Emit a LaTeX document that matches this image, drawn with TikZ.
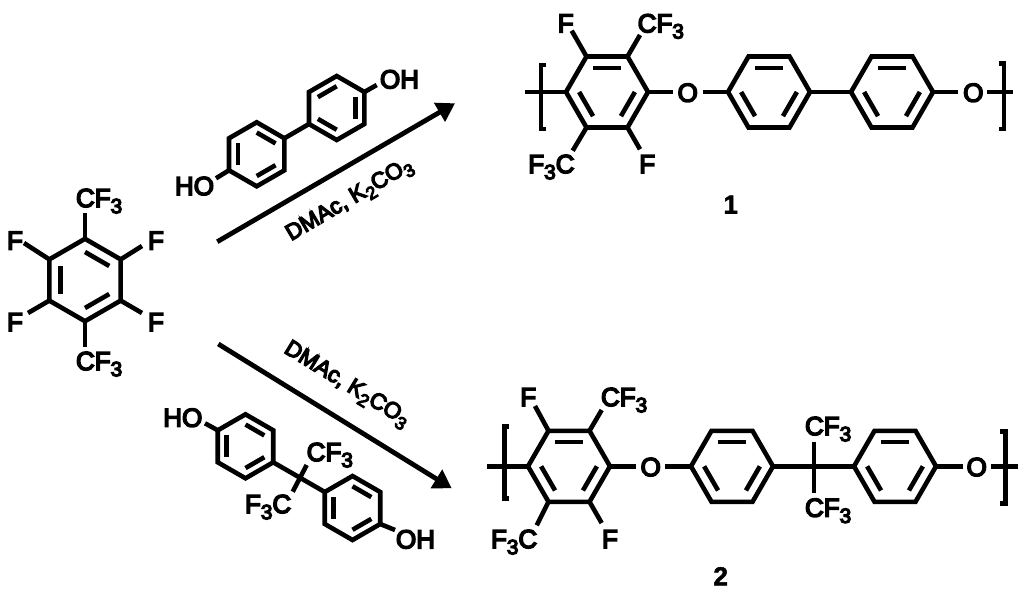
\documentclass[tikz,border=0pt]{standalone}
\usepackage{fontspec}
\usepackage{graphicx}
\usetikzlibrary{arrows.meta}
\newfontfamily\chemfont[FakeBold=6]{Liberation Sans}
\newfontfamily\chemboldfont[FakeBold=2]{Liberation Sans Bold}
\newcommand\subt[1]{\raisebox{-.24em}{\scalebox{.8}{#1}}}
\tikzset{
  bond/.style={line width=4.6pt,line join=miter,line cap=butt,draw=black},
  atom/.style={inner sep=0pt,outer sep=0pt,font=\chemfont\fontsize{26}{26}\selectfont},
  cond/.style={inner sep=0pt,outer sep=0pt,font=\chemfont\fontsize{22.5}{22.5}\selectfont},
  cmpd/.style={inner sep=0pt,outer sep=0pt,font=\chemboldfont\fontsize{26}{26}\selectfont},
  rxn/.style={line width=4.8pt,draw=black,-{Triangle[length=18pt,width=21pt]}},
}
\newcommand\benzene[6]{%
  \foreach \k in {0,...,5}{%
    \coordinate (#1v\k) at ({#2+#4*cos(#5+60*\k)},{#3+#4*sin(#5+60*\k)});
    \coordinate (#1i\k) at ({#2+.68*#4*cos(#5+60*\k)},{#3+.68*#4*sin(#5+60*\k)});
  }
  \draw[bond] (#1v0)--(#1v1)--(#1v2)--(#1v3)--(#1v4)--(#1v5)--cycle;
  \foreach \k in {#6}{%
    \pgfmathtruncatemacro\kk{mod(\k+1,6)}
    \draw[bond] (#1i\k)--(#1i\kk);
  }
}
% bracket: name, x of vertical, x of tick end, y top, y bottom
\newcommand\polybracket[5]{%
  \coordinate (#1a) at (#3,#4); \coordinate (#1b) at (#2,#4);
  \coordinate (#1c) at (#2,#5); \coordinate (#1d) at (#3,#5);
  \draw[line width=4.6pt,line join=miter] (#1a)--(#1b)--(#1c)--(#1d);
}
\begin{document}
\begin{tikzpicture}[x=1pt,y=-1pt]
\useasboundingbox (0,0) rectangle (1024,597);
% ---------- monomer
\benzene{A}{85}{280}{41.2}{30}{0,2,4}
\node[atom,anchor=base west] (Acf1) at (76,207) {CF\subt{3}};
\node[atom,anchor=base west] (Acf2) at (76,370) {CF\subt{3}};
\node[atom,anchor=base] (Af1) at (15,249.5) {F};
\node[atom,anchor=base] (Af2) at (156,249.5) {F};
\node[atom,anchor=base] (Af3) at (15,331) {F};
\node[atom,anchor=base] (Af4) at (156,331) {F};
\coordinate (Ae1) at (85,213); \coordinate (Ae2) at (85,347);
\coordinate (Ae3) at (24,243); \coordinate (Ae4) at (142,246);
\coordinate (Ae5) at (28,313); \coordinate (Ae6) at (142,313);
\draw[bond] (Av4)--(Ae1);
\draw[bond] (Av1)--(Ae2);
\draw[bond] (Av3)--(Ae3);
\draw[bond] (Av5)--(Ae4);
\draw[bond] (Av2)--(Ae5);
\draw[bond] (Av0)--(Ae6);
% ---------- biphenol
\benzene{H}{256.7}{154.3}{32}{30}{0,2,4}
\benzene{I}{336.7}{108}{32}{30}{1,3,5}
\draw[bond] (Hv5)--(Iv2);
\node[atom,anchor=base west] (Hho) at (175,195) {HO};
\node[atom,anchor=base west] (Ioh) at (380,88.3) {OH};
\coordinate (He) at (216,178.3); \coordinate (Ie) at (376.7,85);
\draw[bond] (Hv2)--(He);
\draw[bond] (Iv5)--(Ie);
% ---------- bisphenol AF
\benzene{J}{245.5}{446.3}{32}{30}{0,2,4}
\benzene{K}{352.5}{508}{32}{30}{0,2,4}
\draw[bond] (Jv0)--(Kv3);
\coordinate (Lx1) at (306.7,465); \coordinate (Lx2) at (292.7,491.7);
\draw[bond] (Lx1)--(Lx2);
\node[atom,anchor=base west] (Jho) at (163.3,426.7) {HO};
\node[atom,anchor=base west] (Koh) at (396,548.3) {OH};
\node[atom,anchor=base west] (Lcf) at (306.7,461) {CF\subt{3}};
\node[atom,anchor=base west] (Lfc) at (245,513) {F\subt{3}C};
\coordinate (Je) at (205,423.3); \coordinate (Ke) at (395,530);
\draw[bond] (Jv3)--(Je);
\draw[bond] (Kv0)--(Ke);
% ---------- arrows
\coordinate (R1s) at (217.3,241.7); \coordinate (R1e) at (455,103.3);
\coordinate (R2s) at (218.3,344); \coordinate (R2e) at (451.7,488.3);
\draw[rxn] (R1s)--(R1e);
\draw[rxn] (R2s)--(R2e);
\node[cond,rotate=30.5] (C1) at (350,200.5) {DMAc, K\subt{2}CO\subt{3}};
\node[cond,rotate=-31.5] (C2) at (346.5,385) {DMAc, K\subt{2}CO\subt{3}};
% ---------- polymer 1
\benzene{B}{607}{92}{41}{0}{0,2,4}
\benzene{C}{769}{92}{41}{0}{0,2,4}
\benzene{D}{892}{92}{41}{0}{0,2,4}
\node[atom,anchor=base] (BO) at (687.7,101.7) {O};
\node[atom,anchor=base] (DO) at (973.3,101.7) {O};
\node[atom,anchor=base] (Bf1) at (565.7,32.3) {F};
\node[atom,anchor=base west] (Bcf) at (637.7,32.3) {CF\subt{3}};
\node[atom,anchor=base west] (Bfc) at (528.3,173) {F\subt{3}C};
\node[atom,anchor=base] (Bf2) at (647.3,173) {F};
\node[cmpd,anchor=base] (N1) at (730.7,213.5) {1};
\coordinate (Bb1) at (673.3,92); \coordinate (Bb2) at (702.7,92);
\coordinate (Bb3) at (958,92); \coordinate (Bb4) at (987.3,92);
\coordinate (Bb5) at (1013.3,92); \coordinate (Bb6) at (525,92);
\coordinate (Bs1) at (571.7,30.7); \coordinate (Bs2) at (640,35);
\coordinate (Bs3) at (572.7,150.7); \coordinate (Bs4) at (640,149.3);
\draw[bond] (Bv0)--(Bb1);
\draw[bond] (Bb2)--(Cv3);
\draw[bond] (Cv0)--(Dv3);
\draw[bond] (Dv0)--(Bb3);
\draw[bond] (Bb4)--(Bb5);
\draw[bond] (Bb6)--(Bv3);
\draw[bond] (Bv4)--(Bs1);
\draw[bond] (Bv5)--(Bs2);
\draw[bond] (Bv2)--(Bs3);
\draw[bond] (Bv1)--(Bs4);
\polybracket{Bl}{541}{545.5}{65}{129}
\polybracket{Br}{1004}{999}{63.5}{129}
% ---------- polymer 2
\benzene{E}{569}{466.3}{41}{0}{0,2,4}
\benzene{F}{732}{466.3}{41}{0}{0,2,4}
\benzene{G}{895}{466.3}{41}{0}{0,2,4}
\node[atom,anchor=base] (EO) at (650.7,476) {O};
\node[atom,anchor=base] (GO) at (976.7,476) {O};
\node[atom,anchor=base] (Ef1) at (528.3,406) {F};
\node[atom,anchor=base west] (Ecf) at (601,406) {CF\subt{3}};
\node[atom,anchor=base west] (Efc) at (491,548) {F\subt{3}C};
\node[atom,anchor=base] (Ef2) at (610,548) {F};
\node[atom,anchor=base west] (Fcf1) at (805,435) {CF\subt{3}};
\node[atom,anchor=base west] (Fcf2) at (805,516.7) {CF\subt{3}};
\node[cmpd,anchor=base] (N2) at (720.7,585.3) {2};
\coordinate (Eb1) at (636.3,466.3); \coordinate (Eb2) at (665,466.3);
\coordinate (Eb3) at (962.7,466.3); \coordinate (Eb4) at (990.7,466.3);
\coordinate (Eb5) at (1017.5,466.3); \coordinate (Eb6) at (487.4,466.3);
\coordinate (Fx1) at (814,441.7); \coordinate (Fx2) at (814,492.7);
\coordinate (Es1) at (535,406); \coordinate (Es2) at (601.7,410);
\coordinate (Es3) at (536.7,525.3); \coordinate (Es4) at (601.7,523);
\draw[bond] (Ev0)--(Eb1);
\draw[bond] (Eb2)--(Fv3);
\draw[bond] (Fv0)--(Gv3);
\draw[bond] (Gv0)--(Eb3);
\draw[bond] (Eb4)--(Eb5);
\draw[bond] (Eb6)--(Ev3);
\draw[bond] (Fx1)--(Fx2);
\draw[bond] (Ev4)--(Es1);
\draw[bond] (Ev5)--(Es2);
\draw[bond] (Ev2)--(Es3);
\draw[bond] (Ev1)--(Es4);
\polybracket{El}{504.3}{508.5}{426.7}{498.3}
\polybracket{Er}{1005.5}{1000}{431.7}{503.3}
\end{tikzpicture}
\end{document}
